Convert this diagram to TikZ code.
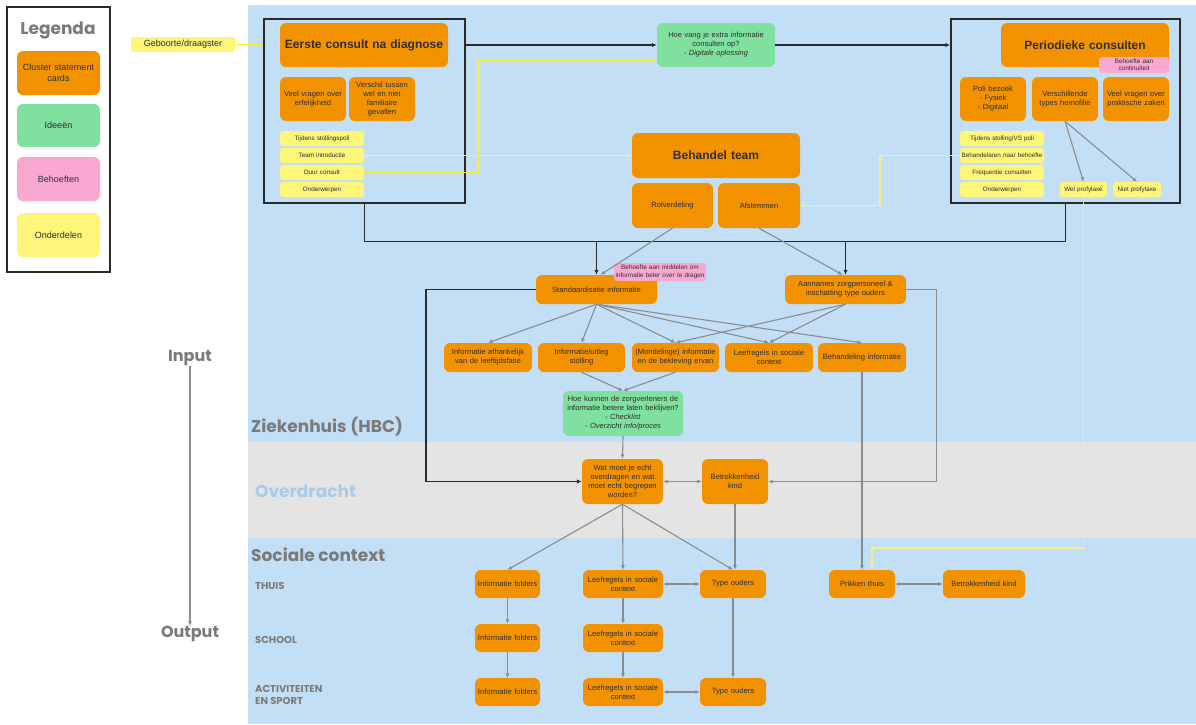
\documentclass[tikz,border=0pt]{standalone}
\usepackage{fontspec}
\setmainfont{Liberation Sans}
\newfontfamily\hfont{Poppins}
\usetikzlibrary{arrows.meta,calc}
\definecolor{orng}{HTML}{F39200}
\definecolor{grn}{HTML}{7FE0A0}
\definecolor{pnk}{HTML}{F9A9D1}
\definecolor{ylw}{HTML}{FDF67A}
\definecolor{bgb}{HTML}{C3DFF6}
\definecolor{bgg}{HTML}{E4E4E4}
\definecolor{ink}{HTML}{2E2E2E}
\definecolor{hd}{HTML}{7A7A7A}
\definecolor{ovd}{HTML}{A9CBE9}
\definecolor{arr}{HTML}{8C8C8C}
\definecolor{yline}{HTML}{F7F08A}
\definecolor{ybright}{HTML}{FAEE30}
\definecolor{frmc}{HTML}{2A2A2A}
\newcommand\card[7]{%
  \pgfmathsetmacro\cw{#4-#2}\pgfmathsetmacro\ch{#5-#3}\pgfmathsetmacro\ctw{#4-#2-2}%
  \node[inner sep=0pt, align=center, minimum width=\cw pt, minimum height=\ch pt, text width=\ctw pt, #1] (#6) at ({(#2+#4)/2},{(#3+#5)/2}) {#7};}
\begin{document}
\begin{tikzpicture}[x=1pt,y=-1pt,
  oc/.style={fill=orng, rounded corners=6pt, text=ink, font=\fontsize{7.6}{9}\selectfont},
  tc/.style={oc, font=\bfseries\fontsize{12}{14}\selectfont},
  gc/.style={fill=grn, rounded corners=6pt, text=ink, font=\fontsize{7.5}{9}\selectfont},
  pc/.style={fill=pnk, rounded corners=3pt, text=ink, font=\fontsize{6.4}{7.4}\selectfont},
  yc/.style={fill=ylw, rounded corners=3pt, text=ink, font=\fontsize{6.3}{7.2}\selectfont},
  lc/.style={font=\fontsize{9}{10.5}\selectfont},
  frm/.style={draw=frmc, line width=1.5pt},
  hdtxt/.style={font=\hfont\bfseries\fontsize{17}{19}\selectfont, text=hd, inner sep=0pt},
  rowtxt/.style={font=\hfont\bfseries\fontsize{10}{12}\selectfont, text=hd, inner sep=0pt, align=left, anchor=west},
  blk/.style={draw=frmc, line width=1.4pt, -{Latex[length=5pt,width=4.5pt]}},
  bline/.style={draw=frmc, line width=1.4pt},
  gar/.style={draw=arr, line width=1.1pt, -{Latex[length=4.5pt,width=4pt]}},
  gbo/.style={draw=arr, line width=1.1pt, {Latex[length=4.5pt,width=4pt]}-{Latex[length=4.5pt,width=4pt]}},
  ylink/.style={draw=yline, line width=1.5pt, -{Latex[length=4.5pt,width=4pt]}}
]
\useasboundingbox (0,0) rectangle (1196,724);
\fill[white] (0,0) rectangle (1196,724);
\fill[bgb] (248,5) rectangle (1196,724);
\fill[bgg] (248,442) rectangle (1196,538);

% legend
\card{frm}{7}{7}{110}{272}{leg}{}
\node[hdtxt] (legt) at (58,31) {Legenda};
\card{oc,lc}{17}{51}{100}{95}{l1}{Cluster statement\\cards}
\card{gc,lc}{17}{104}{100}{147}{l2}{Ideeën}
\card{pc,lc,rounded corners=6pt}{17}{157}{100}{201}{l3}{Behoeften}
\card{yc,lc,rounded corners=6pt}{17}{213}{100}{257}{l4}{Onderdelen}

% left labels
\node[hdtxt, font=\hfont\bfseries\fontsize{16}{18}\selectfont] (inp) at (190,358) {Input};
\node[hdtxt, font=\hfont\bfseries\fontsize{16}{18}\selectfont] (outp) at (190,634) {Output};
\node[hdtxt, anchor=west] (zk) at (251,427) {Ziekenhuis (HBC)};
\node[hdtxt, anchor=west, text=ovd] (ovd) at (255,491) {Overdracht};
\node[hdtxt, anchor=west] (soc) at (251,555) {Sociale context};
\node[rowtxt] (thuis) at (255,586) {THUIS};
\node[rowtxt] (school) at (255,640) {SCHOOL};
\node[rowtxt] (act) at (255,695) {ACTIVITEITEN\\EN SPORT};

\card{yc,lc,rounded corners=2pt}{131}{37}{235}{52}{geb}{Geboorte/draagster}

% frame 1
\card{frm}{264}{19}{465}{203}{f1}{}
\card{tc}{280}{23}{448}{67}{t1}{Eerste consult na diagnose}
\card{oc}{280}{77}{346}{121}{c11}{Veel vragen over\\erfelijkheid}
\card{oc}{349}{77}{415}{121}{c12}{Verschil tussen\\wel en niet\\familiaire\\gevallen}
\card{yc}{280}{131}{364}{146}{y11}{Tijdens stollingspoli}
\card{yc}{280}{148}{364}{163}{team}{Team introductie}
\card{yc}{280}{165}{364}{180}{duur}{Duur consult}
\card{yc}{280}{182}{364}{197}{y14}{Onderwerpen}

% green 1
\card{gc}{657}{23}{775}{67}{g1}{Hoe vang je extra informatie\\consulten op?\\\textit{- Digitale oplossing}}

% behandel team
\card{tc}{632}{133}{800}{178}{bt}{Behandel team}
\card{oc}{632}{183}{713}{228}{rol}{Rolverdeling}
\card{oc}{718}{183}{800}{228}{afst}{Afstemmen}

% frame 3
\card{frm}{951}{19}{1180}{203}{f3}{}
\card{tc}{1001}{23}{1169}{67}{t3}{Periodieke consulten}
\card{pc}{1099}{57}{1169}{73}{p3}{Behoefte aan\\continuïteit}
\card{oc}{960}{77}{1026}{121}{c31}{Poli bezoek\\- Fysiek\\- Digitaal}
\card{oc}{1032}{77}{1098}{121}{vt}{Verschillende\\types hemofilie}
\card{oc}{1103}{77}{1169}{121}{c33}{Veel vragen over\\praktische zaken}
\card{yc}{960}{131}{1044}{146}{y31}{Tijdens stolling/VS poli}
\card{yc}{960}{148}{1044}{163}{behd}{Behandelaren naar behoefte}
\card{yc}{960}{165}{1044}{180}{y33}{Frequentie consulten}
\card{yc}{960}{182}{1044}{197}{y34}{Onderwerpen}
\card{yc}{1060}{182}{1107}{197}{wel}{Wel profylaxe}
\card{yc}{1113}{182}{1161}{197}{niet}{Niet profylaxe}

% middle
\card{oc}{536}{275}{657}{304}{stand}{Standaardisatie informatie}
\card{pc}{614}{263}{706}{281}{pm}{Behoefte aan middelen om\\informatie beter over te dragen}
\card{oc}{785}{275}{906}{304}{aann}{Aannames zorgpersoneel \&\\inschatting type ouders}
\card{oc}{444}{343}{532}{372}{r1}{Informatie afhankelijk\\van de leeftijdsfase}
\card{oc}{538}{343}{625}{372}{r2}{Informatie/uitleg\\stolling}
\card{oc}{632}{343}{719}{372}{r3}{(Mondelinge) informatie\\en de bekleving ervan}
\card{oc}{725}{343}{813}{372}{r4}{Leefregels in sociale\\context}
\card{oc}{818}{343}{906}{372}{r5}{Behandeling informatie}
\card{gc}{563}{391}{683}{436}{g2}{Hoe kunnen de zorgverleners de\\informatie betere laten beklijven?\\\textit{- Checklist}\\\textit{- Overzicht info/proces}}

% overdracht
\card{oc}{582}{459}{663}{504}{wat}{Wat moet je echt\\overdragen en wat\\moet echt begrepen\\worden?}
\card{oc}{702}{459}{768}{504}{betk}{Betrokkenheid\\kind}

% sociale context
\card{oc}{475}{570}{540}{598}{fo1}{Informatie folders}
\card{oc}{583}{570}{663}{598}{le1}{Leefregels in sociale\\context}
\card{oc}{700}{570}{766}{598}{ty1}{Type ouders}
\card{oc}{829}{570}{895}{598}{prik}{Prikken thuis}
\card{oc}{943}{570}{1025}{598}{bk2}{Betrokkenheid kind}
\card{oc}{475}{624}{540}{652}{fo2}{Informatie folders}
\card{oc}{583}{624}{663}{652}{le2}{Leefregels in sociale\\context}
\card{oc}{475}{678}{540}{706}{fo3}{Informatie folders}
\card{oc}{583}{678}{663}{706}{le3}{Leefregels in sociale\\context}
\card{oc}{700}{678}{766}{706}{ty3}{Type ouders}

% connectors
\draw[gar] (inp.south) -- (outp.north);
\draw[ylink, draw=ybright] (geb.east) -- (f1.west |- geb.east);
\draw[blk] (f1.east |- g1.west) -- (g1.west);
\draw[blk] (g1.east) -- (f3.west |- g1.east);
\draw[ylink] (team.east) -- (bt.west |- team.east);
\draw[ylink, draw=ybright] (duur.east) -- ++(115,0) |- ($(g1.west)+(0,15.5)$);
\draw[ylink] (behd.west) -- ++(-80,0) |- (afst.east);
\draw[ylink] (wel.south) -- ++(0,351) -| ($(prik.north)+(10,0)$);
\draw[gar] (vt.south) -- (wel.north);
\draw[gar] (vt.south) -- (niet.north);
\draw[bline] (f1.south) -- ++(0,38) coordinate (busl) -| (f3.south);
\draw[blk] (stand.north |- busl) -- (stand.north);
\draw[blk] (aann.north |- busl) -- (aann.north);
\draw[gar] (rol.south) -- ($(stand.north)+(4,0)$);
\draw[gar] (afst.south) -- ($(aann.north)+(-3,0)$);
\foreach \r in {r1,r2,r3,r4,r5} \draw[gar] (stand.south) -- (\r.north);
\draw[gar] (aann.south) -- (r3.north);
\draw[gar] (aann.south) -- (r4.north);
\draw[gar] (r2.south) -- (g2.north);
\draw[gar] (r3.south) -- (g2.north);
\draw[gar] (g2.south) -- (wat.north);
\draw[blk] (stand.west) -- ++(-110,0) |- (wat.west);
\draw[gar] (aann.east) -- ++(30,0) |- (betk.east);
\draw[gbo] (wat.east) -- (betk.west);
\draw[gar] (r5.south) -- (prik.north);
\draw[gar] (wat.south) -- (fo1.north);
\draw[gar] (wat.south) -- (le1.north);
\draw[gar] (wat.south) -- (ty1.north);
\draw[gar] (betk.south) -- (betk.south |- ty1.north);
\draw[gar] (fo1) -- (fo2);
\draw[gar] (fo2) -- (fo3);
\draw[gar] (le1) -- (le2);
\draw[gar] (le2) -- (le3);
\draw[gar] (ty1) -- (ty3);
\draw[gbo] (le1) -- (ty1);
\draw[gbo] (le3) -- (ty3);
\draw[gbo] (prik) -- (bk2);
\end{tikzpicture}
\end{document}
